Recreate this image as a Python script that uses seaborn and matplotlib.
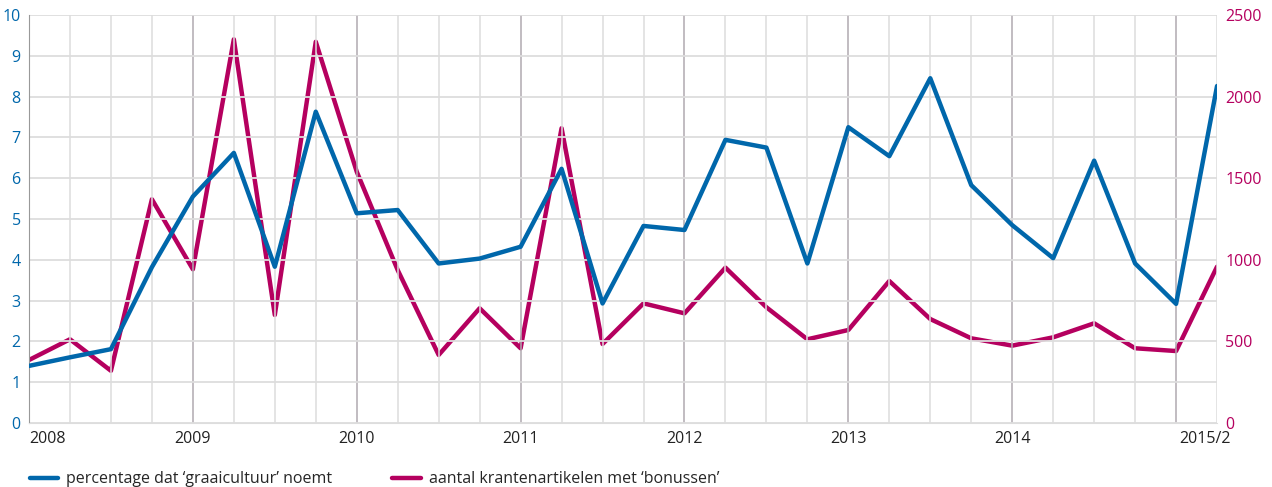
import numpy as np
import pandas as pd
import matplotlib.pyplot as plt
import matplotlib.transforms as mtransforms
import seaborn as sns

# kwartalen 2008/1 t/m 2015/2
kwartalen = [f"{j}/{k}" for j in range(2008, 2016) for k in range(1, 5)][:30]
jaar_labels = ["2008", "2009", "2010", "2011", "2012", "2013", "2014", "2015/2"]
jaar_posities = [0, 4, 8, 12, 16, 20, 24, 29]

graaicultuur = [1.40, 1.61, 1.81, 3.82, 5.55, 6.62, 3.83, 7.63, 5.14, 5.22,
                3.91, 4.03, 4.32, 6.23, 2.93, 4.83, 4.73, 6.94, 6.75, 3.91,
                7.25, 6.54, 8.45, 5.83, 4.85, 4.04, 6.43, 3.91, 2.92, 8.26]
bonussen = [386, 513, 320, 1371, 942, 2351, 662, 2336, 1540, 937,
            417, 703, 458, 1806, 484, 733, 672, 952, 709, 513,
            570, 870, 637, 519, 474, 525, 611, 458, 441, 958]

BLAUW = "#0067ab"
ROZE = "#b5005f"

df = pd.DataFrame({"idx": np.arange(len(kwartalen)),
                   "graaicultuur": graaicultuur,
                   "bonussen": bonussen})

sns.set_style("white")
plt.rcParams["font.family"] = ["Open Sans", "DejaVu Sans"]

fig = plt.figure(figsize=(12.72, 4.87), dpi=100)
ax = fig.add_axes([0.0228, 0.1314, 0.9340, 0.8378])
ax2 = ax.twinx()

# rasterlijnen
for i in range(len(kwartalen)):
    kleur = "#b0aab0" if i % 4 == 0 else "#dddddd"
    ax.axvline(i, color=kleur, lw=1.1, zorder=0)
for v in range(0, 11):
    ax.axhline(v, color="#dddddd", lw=1.3, zorder=0)

sns.lineplot(data=df, x="idx", y="graaicultuur", ax=ax, color=BLAUW, lw=3.2, zorder=3,
             label="percentage dat \u2018graaicultuur\u2019 noemt", legend=False)
sns.lineplot(data=df, x="idx", y="bonussen", ax=ax2, color=ROZE, lw=3.2, zorder=2,
             label="aantal krantenartikelen met \u2018bonussen\u2019", legend=False)

ax.set_zorder(ax2.get_zorder() + 1)
ax.patch.set_visible(False)

ax.set_xlim(0, len(kwartalen) - 1)
ax.set_ylim(0, 10)
ax2.set_ylim(0, 2500)

ax.set_yticks(range(0, 11))
ax.tick_params(axis="y", colors=BLAUW, labelsize=11.5, length=0, pad=6)
ax2.set_yticks(range(0, 2501, 500))
ax2.tick_params(axis="y", colors=ROZE, labelsize=11.5, length=0, pad=6)

ax.set_xticks(jaar_posities)
ax.set_xticklabels(jaar_labels)
ax.tick_params(axis="x", colors="#222222", labelsize=11.5, length=0, pad=6)
xlabels = ax.get_xticklabels()
xlabels[0].set_ha("left")
xlabels[-1].set_transform(xlabels[-1].get_transform() +
                          mtransforms.ScaledTranslation(-0.12, 0, fig.dpi_scale_trans))
ax.set_xlabel("")
ax.set_ylabel("")
ax2.set_ylabel("")

for a in (ax, ax2):
    for s in a.spines.values():
        s.set_visible(False)
ax.spines["left"].set_visible(True)
ax.spines["left"].set_color("#999999")
ax.spines["bottom"].set_visible(True)
ax.spines["bottom"].set_color("#dddddd")

h1, l1 = ax.get_legend_handles_labels()
h2, l2 = ax2.get_legend_handles_labels()
fig.legend(h1 + h2, l1 + l2, loc="lower left", bbox_to_anchor=(0.012, -0.03),
           ncol=2, frameon=False, fontsize=11.5, handlelength=1.8,
           columnspacing=3.75, handletextpad=0.5)

fig.savefig("out.png", dpi=100)
